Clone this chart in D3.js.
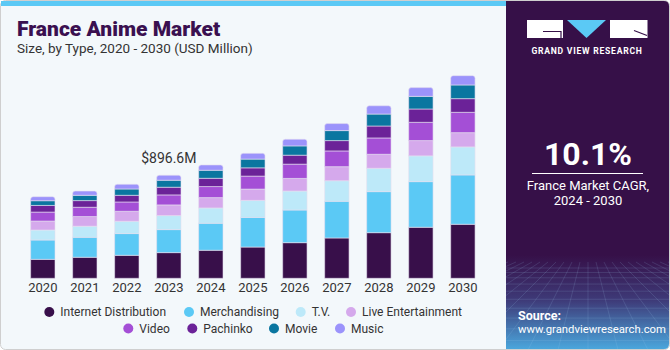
<!DOCTYPE html>
<html>
<head>
<meta charset="utf-8">
<script src="https://cdn.jsdelivr.net/npm/d3@7"></script>
<style>
  body { margin: 0; background: #fff; }
  text { font-family: Roboto, "Liberation Sans", sans-serif; }
</style>
</head>
<body>
<div id="chart"></div>
<script>
// Data (USD Million)
const years = ["2020","2021","2022","2023","2024","2025","2026","2027","2028","2029","2030"];
const types = ["Internet Distribution","Merchandising","T.V.","Live Entertainment","Video","Pachinko","Movie","Music"];
const internetDistribution = [165, 183, 200, 223.4, 244, 272, 310, 351, 397, 444, 470];
const merchandising        = [168, 174, 189, 200.1, 235, 258, 284, 319, 357, 397, 429];
const tv                   = [87, 96, 107, 121.8, 133, 148, 165, 179, 203, 224, 244];
const liveEntertainment    = [78, 84, 87, 93.1, 90, 98, 110, 122, 122, 133, 124];
const video                = [78, 81, 81, 87.0, 96, 113, 124, 137, 142, 159, 177];
const pachinko             = [58, 58, 58, 67.0, 72, 72, 78, 90, 104, 116, 119];
const movie                = [41, 46, 55, 60.9, 70, 76, 81, 87, 104, 110, 119];
const music                = [35, 37, 41, 43.3, 46, 50, 58, 61, 72, 76, 81];
const annotationYear = "2023";
const annotationText = "$896.6M";
const cagrText = "10.1%";

const colors = ["#380f4a", "#5bc9f5", "#bde9f9", "#d5a9ec", "#a44fd6", "#6b2298", "#0a76a0", "#9b93fb"];

const W = 670, H = 350;
const svg = d3.select("#chart").append("svg")
    .attr("width", W).attr("height", H);

// Card backgrounds
svg.append("rect")
    .attr("x", 0.5).attr("y", 0.5).attr("width", W - 1).attr("height", H - 1)
    .attr("rx", 5).attr("fill", "#f3f8fb").attr("stroke", "#cfcfcf");
svg.append("rect")
    .attr("x", 1).attr("y", 1).attr("width", 505).attr("height", 5)
    .attr("fill", "#5bc9f5");

// Stack the series
const table = years.map((yr, i) => ({
  year: yr,
  "Internet Distribution": internetDistribution[i],
  "Merchandising": merchandising[i],
  "T.V.": tv[i],
  "Live Entertainment": liveEntertainment[i],
  "Video": video[i],
  "Pachinko": pachinko[i],
  "Movie": movie[i],
  "Music": music[i]
}));
const stacked = d3.stack().keys(types)(table);

const x = d3.scaleBand()
    .domain(years)
    .range([13, 492.7])
    .padding(0.42);

const y = d3.scaleLinear()
    .domain([0, 1900])
    .range([278.3, 278.3 - 1900 / 8.7]);

const color = d3.scaleOrdinal().domain(types).range(colors);

const bars = svg.append("g");
stacked.forEach((layer, li) => {
  bars.append("g")
    .selectAll("path")
    .data(layer)
    .join("path")
      .attr("fill", color(layer.key))
      .attr("stroke", "#e6dff0")
      .attr("stroke-width", 0.6)
      .attr("d", d => {
        const x0 = x(d.data.year), w = x.bandwidth();
        const top = y(d[1]), bot = y(d[0]);
        if (li === types.length - 1) {
          const r = 2.5;
          return `M${x0},${bot}V${top + r}Q${x0},${top} ${x0 + r},${top}H${x0 + w - r}Q${x0 + w},${top} ${x0 + w},${top + r}V${bot}Z`;
        }
        return `M${x0},${bot}V${top}H${x0 + w}V${bot}Z`;
      });
});

// x axis labels
const xAxis = svg.append("g")
    .attr("transform", "translate(0,279)")
    .call(d3.axisBottom(x).tickSize(0).tickPadding(4));
xAxis.select(".domain").remove();
xAxis.selectAll("text")
    .attr("font-size", 13).attr("fill", "#333")
    .style("font-family", "Roboto, sans-serif");

// Annotation
const totals = table.map(d => types.reduce((s, k) => s + d[k], 0));
const ai = years.indexOf(annotationYear);
svg.append("text")
    .attr("x", x(annotationYear) + x.bandwidth() / 2)
    .attr("y", y(totals[ai]) - 12)
    .attr("text-anchor", "middle")
    .attr("font-size", 14).attr("fill", "#333")
    .text(annotationText);

// Titles
svg.append("text")
    .attr("x", 17).attr("y", 36)
    .attr("font-size", 21).attr("font-weight", 900).attr("fill", "#3a1050")
    .text("France Anime Market");
svg.append("text")
    .attr("x", 17).attr("y", 53)
    .attr("font-size", 13.5).attr("fill", "#333")
    .text("Size, by Type, 2020 - 2030 (USD Million)");

// Legend
const legendPos = [
  [49.3, 312], [189, 312], [300.7, 312], [351, 312],
  [128.3, 328.5], [192.3, 328.5], [274, 328.5], [340, 328.5]
];
const legend = svg.append("g").selectAll("g")
    .data(types)
    .join("g")
    .attr("transform", (d, i) => `translate(${legendPos[i][0]},${legendPos[i][1]})`);
legend.append("circle").attr("r", 5).attr("fill", d => color(d));
legend.append("text")
    .attr("x", 11).attr("dy", "0.35em")
    .attr("font-size", 12).attr("fill", "#333")
    .text(d => d);

// Right panel
const defs = svg.append("defs");
const grad = defs.append("linearGradient").attr("id", "pg")
    .attr("x1", 0).attr("y1", 0).attr("x2", 0).attr("y2", 1);
grad.append("stop").attr("offset", "0%").attr("stop-color", "#361048");
grad.append("stop").attr("offset", "73%").attr("stop-color", "#361048");
grad.append("stop").attr("offset", "86%").attr("stop-color", "#3e3a78");
grad.append("stop").attr("offset", "100%").attr("stop-color", "#4aa6dc");
defs.append("clipPath").attr("id", "pc")
  .append("path")
    .attr("d", "M506,1H664Q669,1 669,6V344Q669,349 664,349H506Z");

const panel = svg.append("g").attr("clip-path", "url(#pc)");
panel.append("rect")
    .attr("x", 506).attr("y", 1).attr("width", 163).attr("height", 348)
    .attr("fill", "url(#pg)");

// faint perspective grid at the bottom of the panel
const grid = panel.append("g").attr("stroke", "#9fd3f2").attr("stroke-opacity", 0.25).attr("stroke-width", 0.6);
d3.range(0, 14).forEach(i => {
  const yy = 268 + i * i * 0.45 + i * 4;
  grid.append("line").attr("x1", 506).attr("x2", 669).attr("y1", yy).attr("y2", yy);
});
d3.range(-12, 13).forEach(i => {
  grid.append("line")
    .attr("x1", 588 + i * 8).attr("y1", 262)
    .attr("x2", 588 + i * 30).attr("y2", 350);
});

// logo
const logo = svg.append("g");
logo.append("rect").attr("x", 527).attr("y", 20).attr("width", 36).attr("height", 18).attr("fill", "#fff");
logo.append("path").attr("d", "M543,31.5H561V38").attr("fill", "none").attr("stroke", "#361048").attr("stroke-width", 1.2);
logo.append("path").attr("d", "M567,20H606L586.5,38Z").attr("fill", "#5bc9f5");
logo.append("rect").attr("x", 610).attr("y", 20).attr("width", 37.5).attr("height", 18).attr("fill", "#fff");
logo.append("path").attr("d", "M634,30.5L647,35.5").attr("fill", "none").attr("stroke", "#361048").attr("stroke-width", 1.2);
logo.append("text")
    .attr("x", 587).attr("y", 53.5).attr("text-anchor", "middle")
    .attr("font-size", 8.6).attr("font-weight", 700).attr("fill", "#fff")
    .attr("letter-spacing", 0.75)
    .text("GRAND VIEW RESEARCH");

svg.append("text")
    .attr("x", 588).attr("y", 165).attr("text-anchor", "middle")
    .attr("font-size", 32).attr("font-weight", 700).attr("fill", "#fff")
    .text(cagrText);
svg.append("line")
    .attr("x1", 532).attr("x2", 643).attr("y1", 173.5).attr("y2", 173.5)
    .attr("stroke", "#fff").attr("stroke-width", 1);
svg.append("text")
    .attr("x", 588).attr("y", 189.5).attr("text-anchor", "middle")
    .attr("font-size", 13).attr("fill", "#fff")
    .text("France Market CAGR,");
svg.append("text")
    .attr("x", 588).attr("y", 204.5).attr("text-anchor", "middle")
    .attr("font-size", 13).attr("fill", "#fff")
    .text("2024 - 2030");

svg.append("text")
    .attr("x", 518).attr("y", 319.5)
    .attr("font-size", 12.5).attr("font-weight", 700).attr("fill", "#fff")
    .text("Source:");
svg.append("text")
    .attr("x", 518).attr("y", 333)
    .attr("font-size", 11.3).attr("fill", "#fff")
    .text("www.grandviewresearch.com");
</script>
</body>
</html>
